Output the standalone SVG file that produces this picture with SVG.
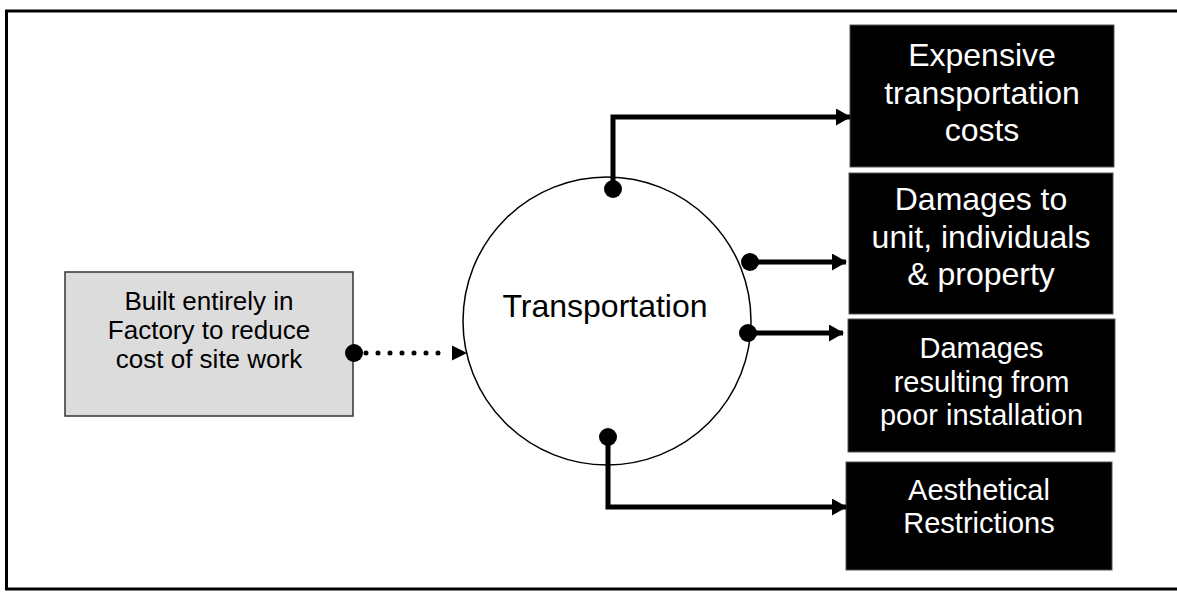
<svg xmlns="http://www.w3.org/2000/svg" width="1177" height="592" viewBox="0 0 1177 592">
<style>
.t{font-family:"Liberation Sans",Arial,sans-serif;text-anchor:middle}
.w{fill:#fff}
.k{fill:#000}
.box{fill:#000;stroke:#555;stroke-width:1}
.ln{fill:none;stroke:#000;stroke-width:5}
</style>
<defs>
<marker id="ah" markerWidth="15" markerHeight="17" refX="14" refY="8.5" orient="auto" markerUnits="userSpaceOnUse">
<path d="M0,0 L15,8.5 L0,17 Z" fill="#000"/>
</marker>
</defs>
<rect x="6.5" y="11" width="1190" height="578" fill="#fff" stroke="#000" stroke-width="3"/>
<g id="source">
<rect x="65" y="272" width="288" height="144" fill="#dcdcdc" stroke="#333" stroke-width="1.5"/>
<text class="t k" font-size="26" x="209" y="310">Built entirely in</text>
<text class="t k" font-size="26" x="209" y="339">Factory to reduce</text>
<text class="t k" font-size="26" x="209" y="368">cost of site work</text>
</g>
<g id="transportation">
<circle cx="607" cy="321" r="144" fill="#fff" stroke="#000" stroke-width="1.5"/>
<text class="t k" font-size="32" x="605" y="317">Transportation</text>
</g>
<g id="expensive">
<rect class="box" x="850" y="25" width="264" height="142"/>
<text class="t w" font-size="32" x="982" y="66">Expensive</text>
<text class="t w" font-size="32" x="982" y="103.5">transportation</text>
<text class="t w" font-size="32" x="982" y="141">costs</text>
</g>
<g id="damages-unit">
<rect class="box" x="849" y="173" width="264" height="141"/>
<text class="t w" font-size="32" x="981" y="210">Damages to</text>
<text class="t w" font-size="32" x="981" y="247.5">unit, individuals</text>
<text class="t w" font-size="32" x="981" y="285">&amp; property</text>
</g>
<g id="damages-install">
<rect class="box" x="848" y="319" width="267" height="133"/>
<text class="t w" font-size="29" x="981.5" y="358">Damages</text>
<text class="t w" font-size="29" x="981.5" y="392">resulting from</text>
<text class="t w" font-size="29" x="981.5" y="425">poor installation</text>
</g>
<g id="aesthetical">
<rect class="box" x="846" y="462" width="266" height="108"/>
<text class="t w" font-size="29" x="979" y="500">Aesthetical</text>
<text class="t w" font-size="29" x="979" y="533">Restrictions</text>
</g>
<g id="connectors">
<circle cx="354" cy="353" r="9" fill="#000"/>
<line x1="366" y1="353" x2="440" y2="353" stroke="#000" stroke-width="5" stroke-linecap="round" stroke-dasharray="0 12"/>
<path d="M452,345.5 L467,353 L452,360.5 Z" fill="#000"/>
<circle cx="613" cy="189" r="9" fill="#000"/>
<path class="ln" d="M613,189 V117 H850" marker-end="url(#ah)"/>
<circle cx="750" cy="262" r="9" fill="#000"/>
<path class="ln" d="M750,262 H846" marker-end="url(#ah)"/>
<circle cx="748" cy="333" r="9" fill="#000"/>
<path class="ln" d="M748,333 H843" marker-end="url(#ah)"/>
<circle cx="608" cy="437" r="9" fill="#000"/>
<path class="ln" d="M608,437 V507 H846" marker-end="url(#ah)"/>
</g>
</svg>
